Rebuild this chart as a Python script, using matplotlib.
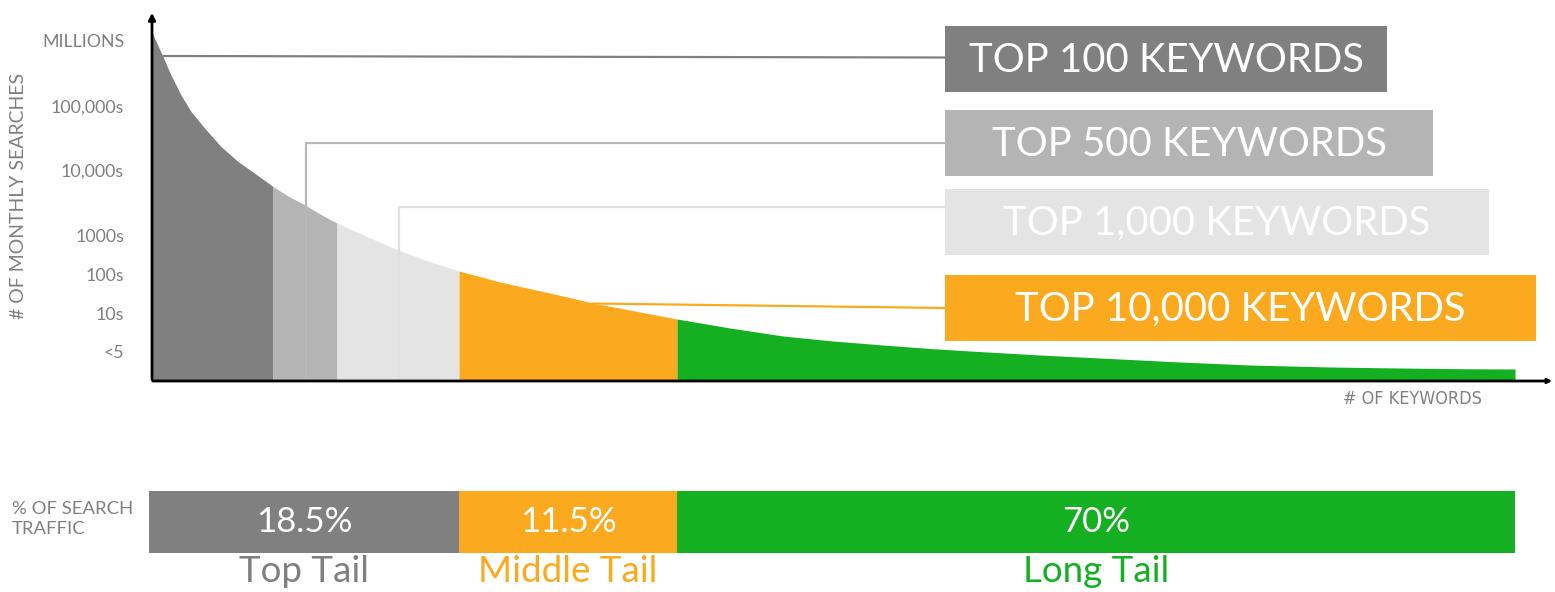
import matplotlib.pyplot as plt

# search-volume curve (keyword position, curve height), pixel-like units
curve_x = [151, 155, 159, 163, 167, 171, 181, 191, 205, 221, 238, 255, 273, 288, 305, 320, 337,
           368, 398, 428, 459, 500, 550, 593, 635, 677, 730, 783, 833, 883, 930, 970, 1040,
           1100, 1180, 1250, 1330, 1400, 1460, 1515]
curve_y = [30, 39, 48, 56.5, 66, 75, 95, 111.5, 128.5, 146.5, 161.5, 173.5, 186.5, 196, 205, 214, 223,
           237, 250, 261, 271, 282, 293, 303, 311, 319, 328, 336, 341, 345, 348.5, 351, 355,
           358, 362, 365, 367, 368, 368.7, 369]

# where the top 100 / 500 / 1,000 / 10,000 keywords end on the keyword axis
keyword_breaks = [151, 273, 337, 459, 677, 1515]
tier_colors = ['#808080', '#b4b4b4', '#e4e4e4', '#fbaa1f', '#14b021']

tick_labels = ['MILLIONS', '100,000s', '10,000s', '1000s', '100s', '10s', '<5']
tick_levels = [42, 108, 172, 237, 276, 315, 353]

box_labels = ['TOP 100 KEYWORDS', 'TOP 500 KEYWORDS', 'TOP 1,000 KEYWORDS', 'TOP 10,000 KEYWORDS']
box_colors = ['#808080', '#b4b4b4', '#e4e4e4', '#fbaa1f']

traffic_share = [18.5, 11.5, 70]
tail_names = ['Top Tail', 'Middle Tail', 'Long Tail']
tail_breaks = [149, 459, 677, 1515]
tail_colors = ['#808080', '#fbaa1f', '#14b021']

FONT = ['Lato', 'DejaVu Sans']
NARROW = ['Liberation Sans Narrow', 'DejaVu Sans']
GREY = '#808080'
AXIS_Y = 381

fig = plt.figure(figsize=(15.55, 5.92), dpi=100)
ax = fig.add_axes([0, 0, 1, 1])
ax.set_xlim(0, 1555)
ax.set_ylim(592, 0)
ax.axis('off')

# curve area, split into tiers
for i in range(len(keyword_breaks) - 1):
    lo, hi = keyword_breaks[i], keyword_breaks[i + 1]
    xs = [x for x in curve_x if lo <= x <= hi]
    ys = [y for x, y in zip(curve_x, curve_y) if lo <= x <= hi]
    ax.fill_between(xs, ys, AXIS_Y, color=tier_colors[i], lw=0)

# connector lines to the boxes
ax.plot([164, 945], [56, 57.5], color='#808080', lw=1.6)
ax.plot([306, 306, 945], [AXIS_Y, 143, 143], color='#b8b8b8', lw=1.6)
ax.plot([399, 399, 945], [AXIS_Y, 207, 207], color='#e0e0e0', lw=1.6)
ax.plot([593, 945], [303.5, 308], color='#fbaa1f', lw=1.6)

# axes with arrows
ax.annotate('', xy=(152, 10), xytext=(152, AXIS_Y + 1),
            arrowprops=dict(arrowstyle='-|>', color='black', lw=2, mutation_scale=10))
ax.annotate('', xy=(1555, AXIS_Y), xytext=(150, AXIS_Y),
            arrowprops=dict(arrowstyle='-|>', color='black', lw=2, mutation_scale=6))

for lab, lev in zip(tick_labels, tick_levels):
    ax.text(124, lev, lab, ha='right', va='center', fontsize=12.8, color=GREY, family=FONT)
ax.text(19, 196, '# OF MONTHLY SEARCHES', rotation=90, ha='center', va='center',
        fontsize=14, color=GREY, family=FONT)
ax.text(1412, 399, '# OF KEYWORDS', ha='center', va='center', fontsize=13,
        color=GREY, family=NARROW, stretch='condensed')

# label boxes
box_left = 945
box_right = [1387, 1433, 1489, 1536]
box_top = [26, 110, 189, 275]
box_h = 66
for lab, col, r, t in zip(box_labels, box_colors, box_right, box_top):
    ax.bar(box_left, box_h, width=r - box_left, bottom=t, align='edge', color=col, lw=0)
    ax.text((box_left + r) / 2, t + box_h / 2 + 1, lab, ha='center', va='center',
            fontsize=28.8, color='white', family=FONT)

# traffic share strip
ax.text(12, 509, '% OF SEARCH', ha='left', va='center', fontsize=13.3, color=GREY, family=FONT)
ax.text(12, 529, 'TRAFFIC', ha='left', va='center', fontsize=13.3, color=GREY, family=FONT)
for i, share in enumerate(traffic_share):
    lo, hi = tail_breaks[i], tail_breaks[i + 1]
    ax.bar(lo, 62, width=hi - lo, bottom=491, align='edge', color=tail_colors[i], lw=0)
    ax.text((lo + hi) / 2, 522, f'{share:g}%', ha='center', va='center',
            fontsize=25, color='white', family=FONT)
    ax.text((lo + hi) / 2, 571, tail_names[i], ha='center', va='center',
            fontsize=26.5, color=tail_colors[i], family=FONT)

fig.savefig('out.png', dpi=100)
